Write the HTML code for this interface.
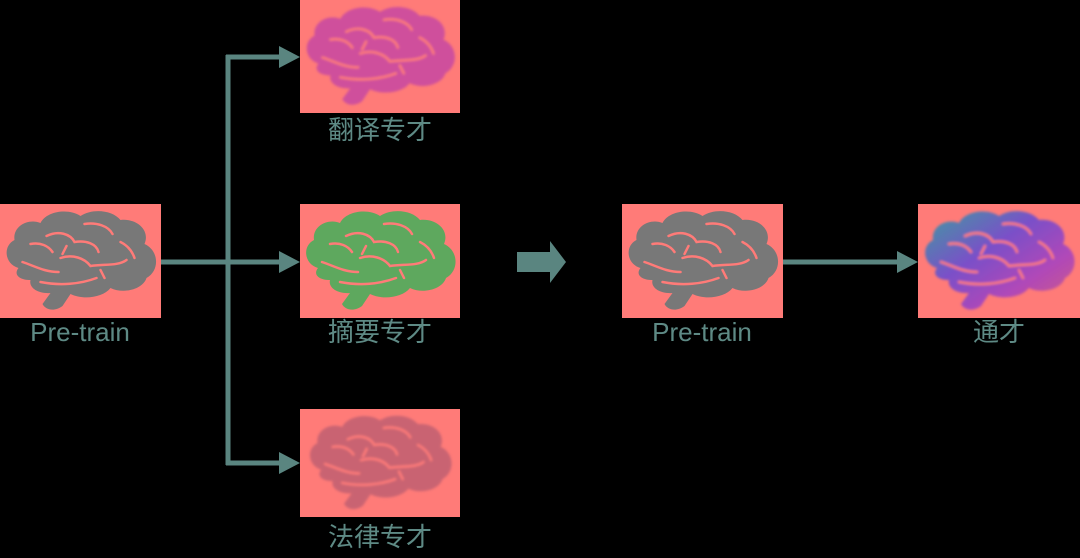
<!DOCTYPE html>
<html><head><meta charset="utf-8"><style>
html,body{margin:0;padding:0;background:#000;}
body{width:1080px;height:558px;position:relative;overflow:hidden;font-family:"Liberation Sans","Noto Sans CJK SC",sans-serif;}
.lbl{position:absolute;color:#5E8A85;font-size:26px;text-align:center;width:200px;line-height:30px;}
</style></head><body>
<svg width="1080" height="558" style="position:absolute;left:0;top:0">
<defs>
<symbol id="brain" viewBox="0 0 160 114">
<path d="M18,64 C4,60 2,42 14,36 C12,22 28,14 40,19 C46,7 68,4 80,12 C92,4 112,6 120,16 C136,14 150,26 144,40 C158,46 160,66 146,74 C142,86 122,90 110,84 C102,94 82,96 70,90 L62,102 C54,108 45,106 42,100 L50,89 C38,90 28,84 30,76 C18,76 13,70 18,64 Z"/>
<g fill="none" stroke="#FF7B78" stroke-width="2.5" stroke-linecap="round">
<path d="M30,40 C40,38 48,42 52,48"/>
<path d="M46,32 C58,26 70,30 74,38 C86,36 96,40 98,48"/>
<path d="M84,20 C96,18 108,22 112,30"/>
<path d="M60,54 C72,50 84,54 90,62 C104,60 118,62 126,56"/>
<path d="M22,58 C34,62 44,68 58,68"/>
<path d="M40,78 C60,82 80,80 96,74"/>
<path d="M120,38 C128,42 132,48 134,54"/>
<path d="M66,42 L62,50"/>
<path d="M100,66 L104,74"/>
</g>
</symbol>
<filter id="bl"><feGaussianBlur stdDeviation="1.2"/></filter>
<linearGradient id="gr" x1="0" y1="0" x2="1" y2="1">
<stop offset="0" stop-color="#3E9CA0"/><stop offset="0.4" stop-color="#7A50C8"/><stop offset="0.7" stop-color="#B048B8"/><stop offset="1" stop-color="#D06080"/>
</linearGradient>
</defs>
<g fill="#FF7B78">
<rect x="0" y="204" width="161" height="114"/>
<rect x="300" y="0" width="160" height="113"/>
<rect x="300" y="204" width="160" height="114"/>
<rect x="300" y="409" width="160" height="108"/>
<rect x="622" y="204" width="161" height="114"/>
<rect x="918" y="204" width="162" height="114"/>
</g>
<use href="#brain" x="0" y="204" width="161" height="114" fill="#787878"/>
<use href="#brain" x="300" y="0" width="160" height="113" fill="#CF4F9C" filter="url(#bl)"/>
<use href="#brain" x="300" y="204" width="160" height="114" fill="#5EA85E"/>
<use href="#brain" x="300" y="409" width="160" height="108" fill="#C96472" filter="url(#bl)"/>
<use href="#brain" x="622" y="204" width="161" height="114" fill="#787878"/>
<use href="#brain" x="918" y="204" width="162" height="114" fill="url(#gr)" filter="url(#bl)"/>
<g stroke="#5A8580" stroke-width="5" fill="none">
<path d="M161,262 H228 M228,55 V465 M226,57 H283 M228,262 H283 M226,463 H283 M783,262 H900"/>
</g>
<g fill="#5A8580">
<path d="M279,46 L300,57 L279,68Z"/>
<path d="M279,251 L300,262 L279,273Z"/>
<path d="M279,452 L300,463 L279,474Z"/>
<path d="M897,251 L918,262 L897,273Z"/>
<path d="M517,252 H550 V241 L566,262 L550,283 V272 H517Z"/>
</g>
</svg>
<div class="lbl" style="left:280px;top:115px">翻译专才</div>
<div class="lbl" style="left:-20px;top:317px">Pre-train</div>
<div class="lbl" style="left:280px;top:317px">摘要专才</div>
<div class="lbl" style="left:280px;top:522px">法律专才</div>
<div class="lbl" style="left:602px;top:317px">Pre-train</div>
<div class="lbl" style="left:899px;top:317px">通才</div>
</body></html>
